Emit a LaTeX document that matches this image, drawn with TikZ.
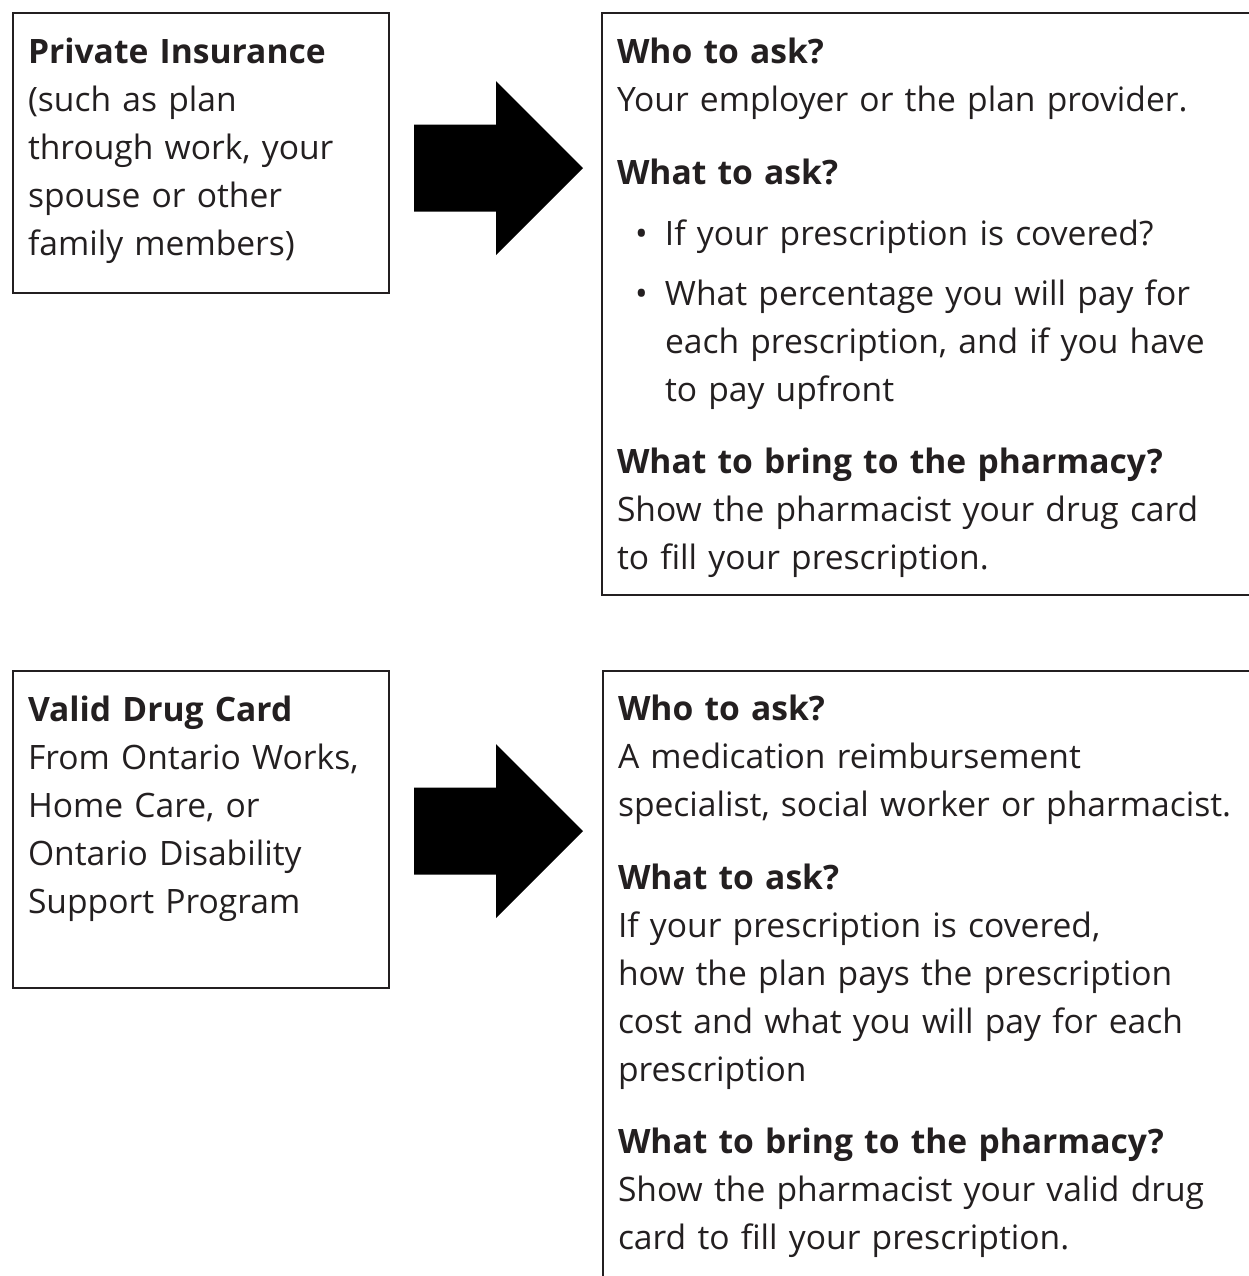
\documentclass[tikz,border=0pt]{standalone}
\usepackage{fontspec}
\setmainfont{Open Sans}
\usetikzlibrary{positioning}
\definecolor{ink}{HTML}{231F20}
\setlength{\parindent}{0pt}
\setlength{\parskip}{0pt}
\tikzset{infobox/.style={draw=ink, line width=1.25pt, inner sep=0pt, outer sep=0pt, anchor=north west}}
\tikzset{infotext/.style={inner sep=0pt, outer sep=0pt, text width=#1, align=left, text=ink, font=\fontsize{16.8}{24}\selectfont}}
\newcommand{\bitem}{\leavevmode\hangindent=24pt\hangafter=0\llap{\makebox[24pt][l]{\hspace{9pt}\textbullet}}}
\newcommand{\biggap}{\par\vspace{12.5pt}}

\begin{document}
\begin{tikzpicture}[x=0.5pt, y=-0.5pt]
				\useasboundingbox (0,0) rectangle (1249,1276);
				\clip (0,0) rectangle (1249,1276);

				% boxes
				\node[infobox, minimum width=188pt, minimum height=140pt] (prv) at (13,13) {};
				\node[infobox, minimum width=330pt, minimum height=291pt] (prvinfo) at (602,13) {};
				\node[infobox, minimum width=188pt, minimum height=158.5pt] (card) at (13,671) {};
				\node[infobox, minimum width=330pt, minimum height=320pt] (cardinfo) at (603,671) {};

				% texts
				\node[infotext=180pt, below right=8.25pt and 7.5pt of prv.north west] (prvtxt) {\strut\textbf{Private Insurance}\\
					(such as plan\\ through work, your\\ spouse or other\\ family members)};
				\node[infotext=320pt, below right=8.25pt and 7.5pt of prvinfo.north west] (prvinfotxt) {\strut\textbf{Who to ask?}\\
					Your employer or the plan provider.\biggap
					\textbf{What to ask?}\par\vspace{6.5pt}
					\bitem If your prescription is covered?\par\vspace{6pt}
					\bitem What percentage you will pay for\newline each prescription, and if you have\newline to pay upfront\par\vspace{12pt}
					\textbf{What to bring to the pharmacy?}\\
					Show the pharmacist your drug card\\ to fill your prescription.};
				\node[infotext=180pt, below right=8.25pt and 7.5pt of card.north west] (cardtxt) {\strut\textbf{Valid Drug Card}\\
					From Ontario Works,\\ Home Care, or\\ Ontario Disability\\ Support Program};
				\node[infotext=320pt, below right=7.7pt and 7.5pt of cardinfo.north west] (cardinfotxt) {\strut\textbf{Who to ask?}\\
					A medication reimbursement\\ specialist, social worker or pharmacist.\biggap
					\textbf{What to ask?}\\
					If your prescription is covered,\\ how the plan pays the prescription\\ cost and what you will pay for each\\ prescription\par\vspace{12pt}
					\textbf{What to bring to the pharmacy?}\\
					Show the pharmacist your valid drug\\ card to fill your prescription.};

				% arrows
				\foreach \cy in {168,831}
					\fill[black] (414,\cy-43.5) -- (496,\cy-43.5) -- (496,\cy-87) -- (583,\cy)
						-- (496,\cy+87) -- (496,\cy+43.5) -- (414,\cy+43.5) -- cycle;
			\end{tikzpicture}
\end{document}
